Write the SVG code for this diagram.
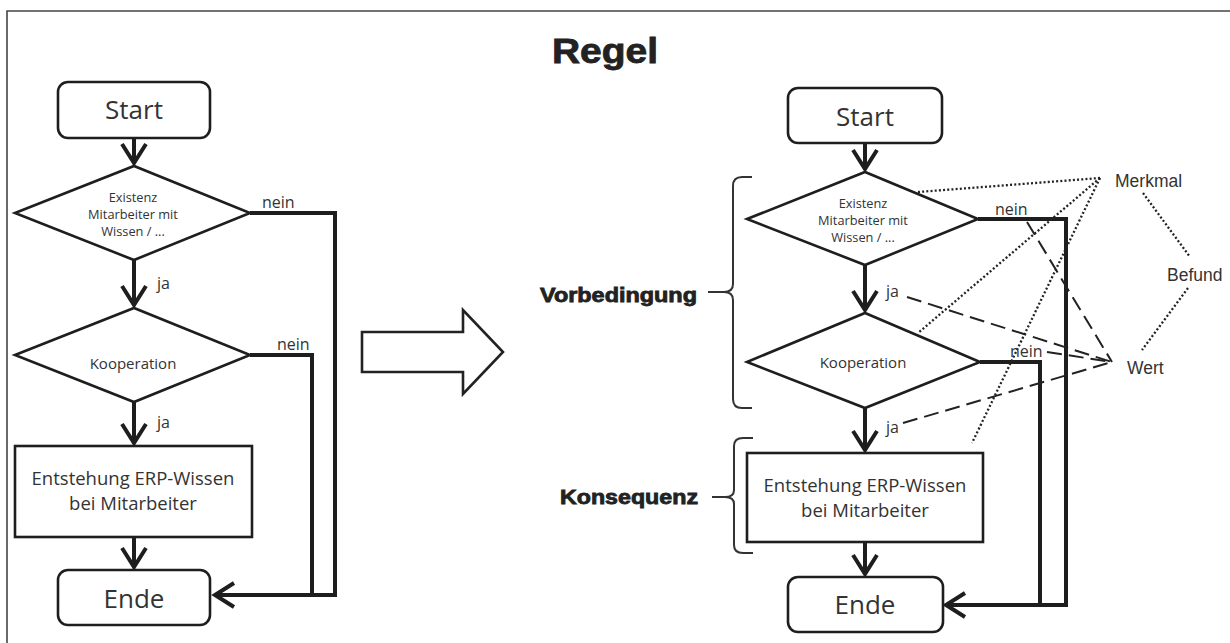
<svg xmlns="http://www.w3.org/2000/svg" width="1230" height="643" viewBox="0 0 1230 643">
<style>
.node{fill:#fff;stroke:#1e1e1e;stroke-width:2.6}
.t{font-family:"Open Sans","Noto Sans",sans-serif;fill:#333;text-anchor:middle}
.lbl{font-family:"Open Sans","Noto Sans",sans-serif;fill:#333;font-size:16px}
.conn{fill:none;stroke:#1e1e1e;stroke-width:4;stroke-linejoin:miter}
.arr{fill:none;stroke:#1e1e1e;stroke-width:4;marker-end:url(#chev)}
.dot{fill:none;stroke:#222;stroke-width:2.3;stroke-dasharray:2 2.2}
.dash{fill:none;stroke:#222;stroke-width:2;stroke-dasharray:15 7}
.brace{fill:none;stroke:#333;stroke-width:2}
.hv{font-family:"Liberation Sans",Arial,sans-serif;font-weight:bold;fill:#222;stroke:#222;stroke-width:0.8}
.sw{font-family:"Liberation Sans",Arial,sans-serif;fill:#333;font-size:17.5px}
</style>
<defs>
<marker id="chev" markerUnits="userSpaceOnUse" markerWidth="40" markerHeight="40" viewBox="-25 -20 30 40" refX="0" refY="0" orient="auto">
<path d="M-19,-12 L0,0 L-19,12" fill="none" stroke="#1e1e1e" stroke-width="4"/>
</marker>
</defs>
<rect width="1230" height="643" fill="#fff"/>
<g id="frame">
<path d="M7,643 L7,11 L1230,11" fill="none" stroke="#444" stroke-width="1.6"/>
</g>
<g id="title"><text class="hv" x="552" y="63" font-size="35" textLength="106" lengthAdjust="spacingAndGlyphs">Regel</text></g>

<g id="connectors">
<line class="arr" x1="134" y1="138" x2="134" y2="163"/>
<line class="arr" x1="134" y1="260" x2="134" y2="305"/>
<line class="arr" x1="134" y1="402" x2="134" y2="443"/>
<line class="arr" x1="134" y1="537" x2="134" y2="567"/>
<polyline class="conn" points="250,213 335,213 335,595"/>
<polyline class="conn" points="250,355 312,355 312,595"/>
<polyline class="arr" points="337,595 215,595"/>

<line class="arr" x1="865" y1="143" x2="865" y2="169"/>
<line class="arr" x1="865" y1="265" x2="865" y2="310"/>
<line class="arr" x1="865" y1="408" x2="865" y2="450"/>
<line class="arr" x1="865" y1="542" x2="865" y2="574"/>
<polyline class="conn" points="978,219 1066,219 1066,605"/>
<polyline class="conn" points="980,362 1040,362 1040,605"/>
<polyline class="arr" points="1068,605 946,605"/>

<line class="dot" x1="1100" y1="178" x2="918" y2="192"/>
<line class="dot" x1="1100" y1="178" x2="918" y2="333"/>
<line class="dot" x1="1100" y1="178" x2="972" y2="443"/>
<line class="dot" x1="1143" y1="193" x2="1190" y2="257"/>
<line class="dot" x1="1188" y1="288" x2="1142" y2="350"/>
<line class="dash" x1="1027" y1="222" x2="1112" y2="362"/>
<line class="dash" x1="907" y1="297" x2="1112" y2="362"/>
<line class="dash" x1="1047" y1="352" x2="1112" y2="362"/>
<line class="dash" x1="903" y1="423" x2="1112" y2="362"/>
</g>

<g id="bigArrow"><polygon points="362,332 463,332 463,310 503,352 463,394 463,372 362,372" fill="#fff" stroke="#222" stroke-width="2.6"/></g>

<g id="L_start"><rect class="node" x="58" y="82" width="152" height="56" rx="10"/><text class="t" x="134" y="119" font-size="26">Start</text></g>
<g id="L_d1"><polygon class="node" points="15,213 134,166 250,213 134,260"/>
<text class="t" x="133" y="202" font-size="12.8">Existenz</text>
<text class="t" x="133" y="219" font-size="12.8">Mitarbeiter mit</text>
<text class="t" x="133" y="236" font-size="12.8">Wissen / ...</text></g>
<g id="L_d2"><polygon class="node" points="15,355 134,308 250,355 134,402"/><text class="t" x="133" y="369" font-size="15">Kooperation</text></g>
<g id="L_rect"><rect class="node" x="15" y="446" width="237" height="91"/>
<text class="t" x="133" y="485" font-size="18.5">Entstehung ERP-Wissen</text>
<text class="t" x="133" y="510" font-size="18.5">bei Mitarbeiter</text></g>
<g id="L_end"><rect class="node" x="58" y="570" width="152" height="55" rx="10"/><text class="t" x="134" y="608" font-size="26">Ende</text></g>
<g id="L_labels">
<text class="lbl" x="262" y="208">nein</text>
<text class="lbl" x="157" y="289">ja</text>
<text class="lbl" x="277" y="350">nein</text>
<text class="lbl" x="157" y="428">ja</text>
</g>

<g id="R_start"><rect class="node" x="788" y="88" width="154" height="55" rx="10"/><text class="t" x="865" y="126" font-size="26">Start</text></g>
<g id="R_d1"><polygon class="node" points="747,219 865,172 978,219 865,265"/>
<text class="t" x="863" y="208" font-size="12.8">Existenz</text>
<text class="t" x="863" y="225" font-size="12.8">Mitarbeiter mit</text>
<text class="t" x="863" y="242" font-size="12.8">Wissen / ...</text></g>
<g id="R_d2"><polygon class="node" points="747,362 865,313 980,362 865,408"/><text class="t" x="863" y="368" font-size="15">Kooperation</text></g>
<g id="R_rect"><rect class="node" x="747" y="453" width="236" height="89"/>
<text class="t" x="865" y="492" font-size="18.5">Entstehung ERP-Wissen</text>
<text class="t" x="865" y="517" font-size="18.5">bei Mitarbeiter</text></g>
<g id="R_end"><rect class="node" x="788" y="577" width="155" height="55" rx="10"/><text class="t" x="865" y="614" font-size="26">Ende</text></g>
<g id="R_labels">
<text class="lbl" x="995" y="215">nein</text>
<text class="lbl" x="886" y="297">ja</text>
<text class="lbl" x="1010" y="357">nein</text>
<text class="lbl" x="886" y="433">ja</text>
</g>

<g id="vorbedingung">
<path class="brace" d="M752,177 L742,177 Q733,177 733,186 L733,284 Q733,292 724,292 Q733,292 733,300 L733,399 Q733,408 742,408 L752,408 M708,292 L724,292"/>
<text class="hv" x="540" y="302" font-size="20" textLength="157" lengthAdjust="spacingAndGlyphs">Vorbedingung</text>
</g>
<g id="konsequenz">
<path class="brace" d="M753,438 L743,438 Q734,438 734,446 L734,490 Q734,497 725,497 Q734,497 734,504 L734,545 Q734,553 743,553 L753,553 M712,497 L725,497"/>
<text class="hv" x="560" y="504" font-size="20" textLength="138" lengthAdjust="spacingAndGlyphs">Konsequenz</text>
</g>
<g id="merkmal"><text class="sw" x="1115" y="187">Merkmal</text></g>
<g id="befund"><text class="sw" x="1167" y="281">Befund</text></g>
<g id="wert"><text class="sw" x="1127" y="374">Wert</text></g>
</svg>
